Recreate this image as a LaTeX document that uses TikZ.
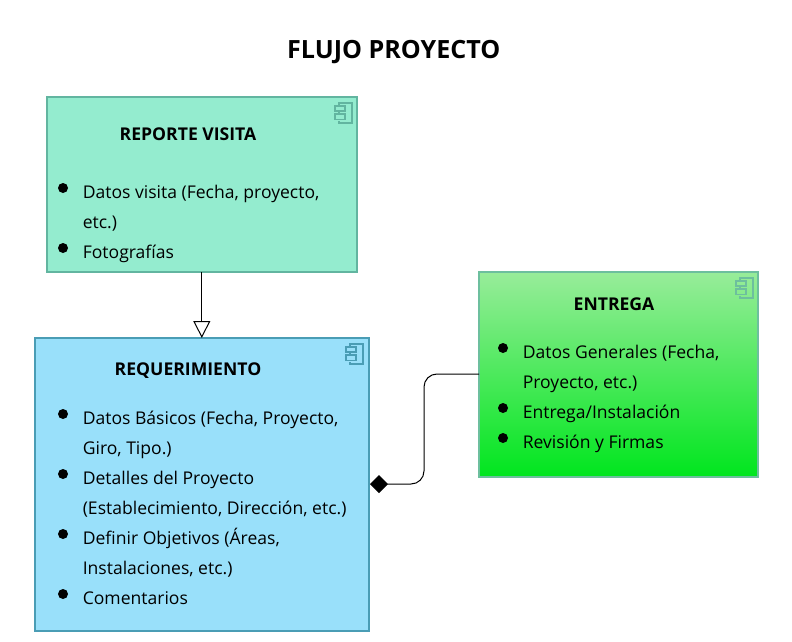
\documentclass[tikz,border=0pt]{standalone}
\usepackage{fontspec}
\setmainfont{Open Sans}
\usetikzlibrary{arrows.meta}
\definecolor{tealfill}{HTML}{94ECCF}
\definecolor{tealline}{HTML}{62B5A0}
\definecolor{bluefill}{HTML}{99E0FA}
\definecolor{blueline}{HTML}{4A9DB5}
\definecolor{greenline}{HTML}{6DBF9E}
\definecolor{gtop}{HTML}{98EC9A}
\definecolor{gbot}{HTML}{00E61E}
\tikzset{
  x=1pt,y=-1pt,
  box/.style={draw,line width=1.6pt,minimum width=#1,inner sep=0pt,outer sep=0pt,anchor=north west},
  ttl/.style={font=\fontsize{17.6}{20}\selectfont\bfseries,anchor=base,inner sep=0pt},
  txt/.style={font=\fontsize{17.55}{20}\selectfont,anchor=base west,inner sep=0pt},
  dot/.style={circle,fill=black,minimum size=10pt,inner sep=0pt},
  link/.style={draw=black,line width=1pt},
  pics/comp/.style={code={
    \draw[#1,line width=1.5pt,fill=none] (-5,-8)--(-5,-10)--(8,-10)--(8,10)--(-5,10)--(-5,8);
    \draw[#1,line width=1.5pt,fill=none] (-5,-2.5)--(-5,1);
    \draw[#1,line width=1.5pt,fill=none] (-9,-7) rectangle (1,-2);
    \draw[#1,line width=1.5pt,fill=none] (-9,1) rectangle (1,6.5);
  }}
}
\begin{document}
\begin{tikzpicture}
\useasboundingbox (0,0) rectangle (792,642);
\node[font=\fontsize{25.1}{29}\selectfont\bfseries,inner sep=0pt,anchor=base] (title) at (393.8,59) {FLUJO PROYECTO};
% boxes
\node[box=310pt,draw=tealline,fill=tealfill,minimum height=175pt] (rv) at (47,97) {};
\node[box=334pt,draw=blueline,fill=bluefill,minimum height=293pt] (req) at (35,338) {};
\node[box=279pt,draw=greenline,top color=gtop,bottom color=gbot,minimum height=205pt] (ent) at (479,272) {};
\pic at (344,113) {comp=tealline};
\pic at (355,354) {comp=blueline};
\pic at (745,288) {comp=greenline};
% texts reporte
\node[ttl] (t1) at (188,140) {REPORTE VISITA};
\node[dot] (d11) at (63,188) {};
\node[txt] (l11) at (82.6,198) {Datos visita (Fecha, proyecto,};
\node[txt] (l12) at (82.6,228) {etc.)};
\node[dot] (d12) at (63,248) {};
\node[txt] (l13) at (82.6,258) {Fotografías};
% requerimiento
\node[ttl] (t2) at (188,375) {REQUERIMIENTO};
\node[dot] (d21) at (63,414) {};
\node[txt] (l21) at (82.6,424) {Datos Básicos (Fecha, Proyecto,};
\node[txt] (l22) at (82.6,454) {Giro, Tipo.)};
\node[dot] (d22) at (63,474) {};
\node[txt] (l23) at (82.6,484) {Detalles del Proyecto};
\node[txt] (l24) at (82.6,514) {(Establecimiento, Dirección, etc.)};
\node[dot] (d23) at (63,534) {};
\node[txt] (l25) at (82.6,544) {Definir Objetivos (Áreas,};
\node[txt] (l26) at (82.6,574) {Instalaciones, etc.)};
\node[dot] (d24) at (63,594) {};
\node[txt] (l27) at (82.6,604) {Comentarios};
% entrega
\node[ttl] (t3) at (614,310) {ENTREGA};
\node[dot] (d31) at (503,348) {};
\node[txt] (l31) at (522.6,358) {Datos Generales (Fecha,};
\node[txt] (l32) at (522.6,388) {Proyecto, etc.)};
\node[dot] (d32) at (503,408) {};
\node[txt] (l33) at (522.6,418) {Entrega/Instalación};
\node[dot] (d33) at (503,438) {};
\node[txt] (l34) at (522.6,448) {Revisión y Firmas};
% connectors
\coordinate (a1) at (201.8,272);
\coordinate (a2) at (201.8,338);
\draw[link,-{Triangle[open,fill=white,length=17pt,width=17pt,line width=1pt]}] (a1) -- (a2);
\coordinate (b1) at (479,374);
\coordinate (b2) at (370,484);
\draw[link,-{Diamond[fill=black,length=18pt,width=18pt]}] (b1) -- (437,374) to[out=180,in=90] (424,387) -- (424,471) to[out=270,in=0] (411,484) -- (b2);
\end{tikzpicture}
\end{document}
